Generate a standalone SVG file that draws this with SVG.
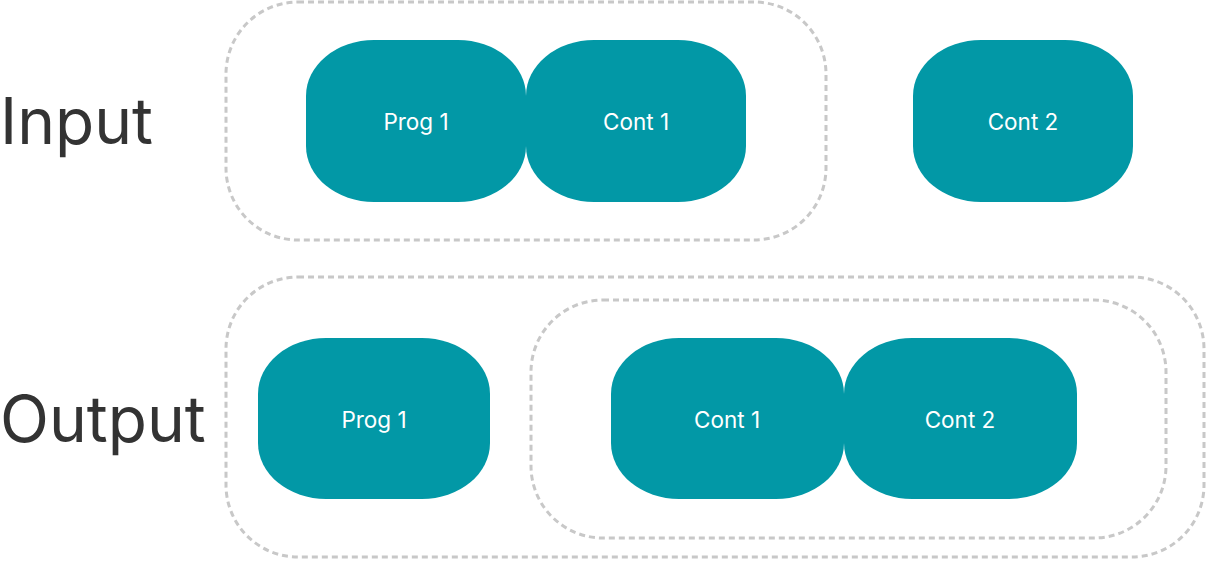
<svg xmlns="http://www.w3.org/2000/svg" width="1206" height="564" viewBox="0 0 1206 564">
<style>
.grp{fill:none;stroke:#c8c8c8;stroke-width:3;stroke-dasharray:6 4}
.node{fill:#0298a6}
.lbl{font-family:Inter,"Noto Sans",sans-serif;font-size:22.5px;fill:#fff;text-anchor:middle;dominant-baseline:central}
.big{font-family:Inter,"Noto Sans",sans-serif;font-size:64px;fill:#333}
</style>
<rect width="1206" height="564" fill="#fff"/>
<g id="groups">
<rect class="grp" x="226" y="2" width="600" height="238" rx="72" ry="72"/>
<rect class="grp" x="226" y="277" width="978" height="280" rx="72" ry="72"/>
<rect class="grp" x="531" y="300" width="635" height="238" rx="72" ry="72"/>
</g>
<text class="big" x="0" y="144">Input</text>
<text class="big" x="0" y="442">Output</text>
<g id="in-prog1"><rect class="node" x="306" y="40" width="220" height="162" rx="68" ry="56"/><text class="lbl" x="416" y="121">Prog 1</text></g>
<g id="in-cont1"><rect class="node" x="526" y="40" width="220" height="162" rx="68" ry="56"/><text class="lbl" x="636" y="121">Cont 1</text></g>
<g id="in-cont2"><rect class="node" x="913" y="40" width="220" height="162" rx="68" ry="56"/><text class="lbl" x="1023" y="121">Cont 2</text></g>
<g id="out-prog1"><rect class="node" x="258" y="338" width="232" height="161" rx="68" ry="56"/><text class="lbl" x="374" y="419">Prog 1</text></g>
<g id="out-cont1"><rect class="node" x="611" y="338" width="233" height="161" rx="68" ry="56"/><text class="lbl" x="727" y="419">Cont 1</text></g>
<g id="out-cont2"><rect class="node" x="844" y="338" width="233" height="161" rx="68" ry="56"/><text class="lbl" x="960" y="419">Cont 2</text></g>
<g id="connectors"/>
</svg>
